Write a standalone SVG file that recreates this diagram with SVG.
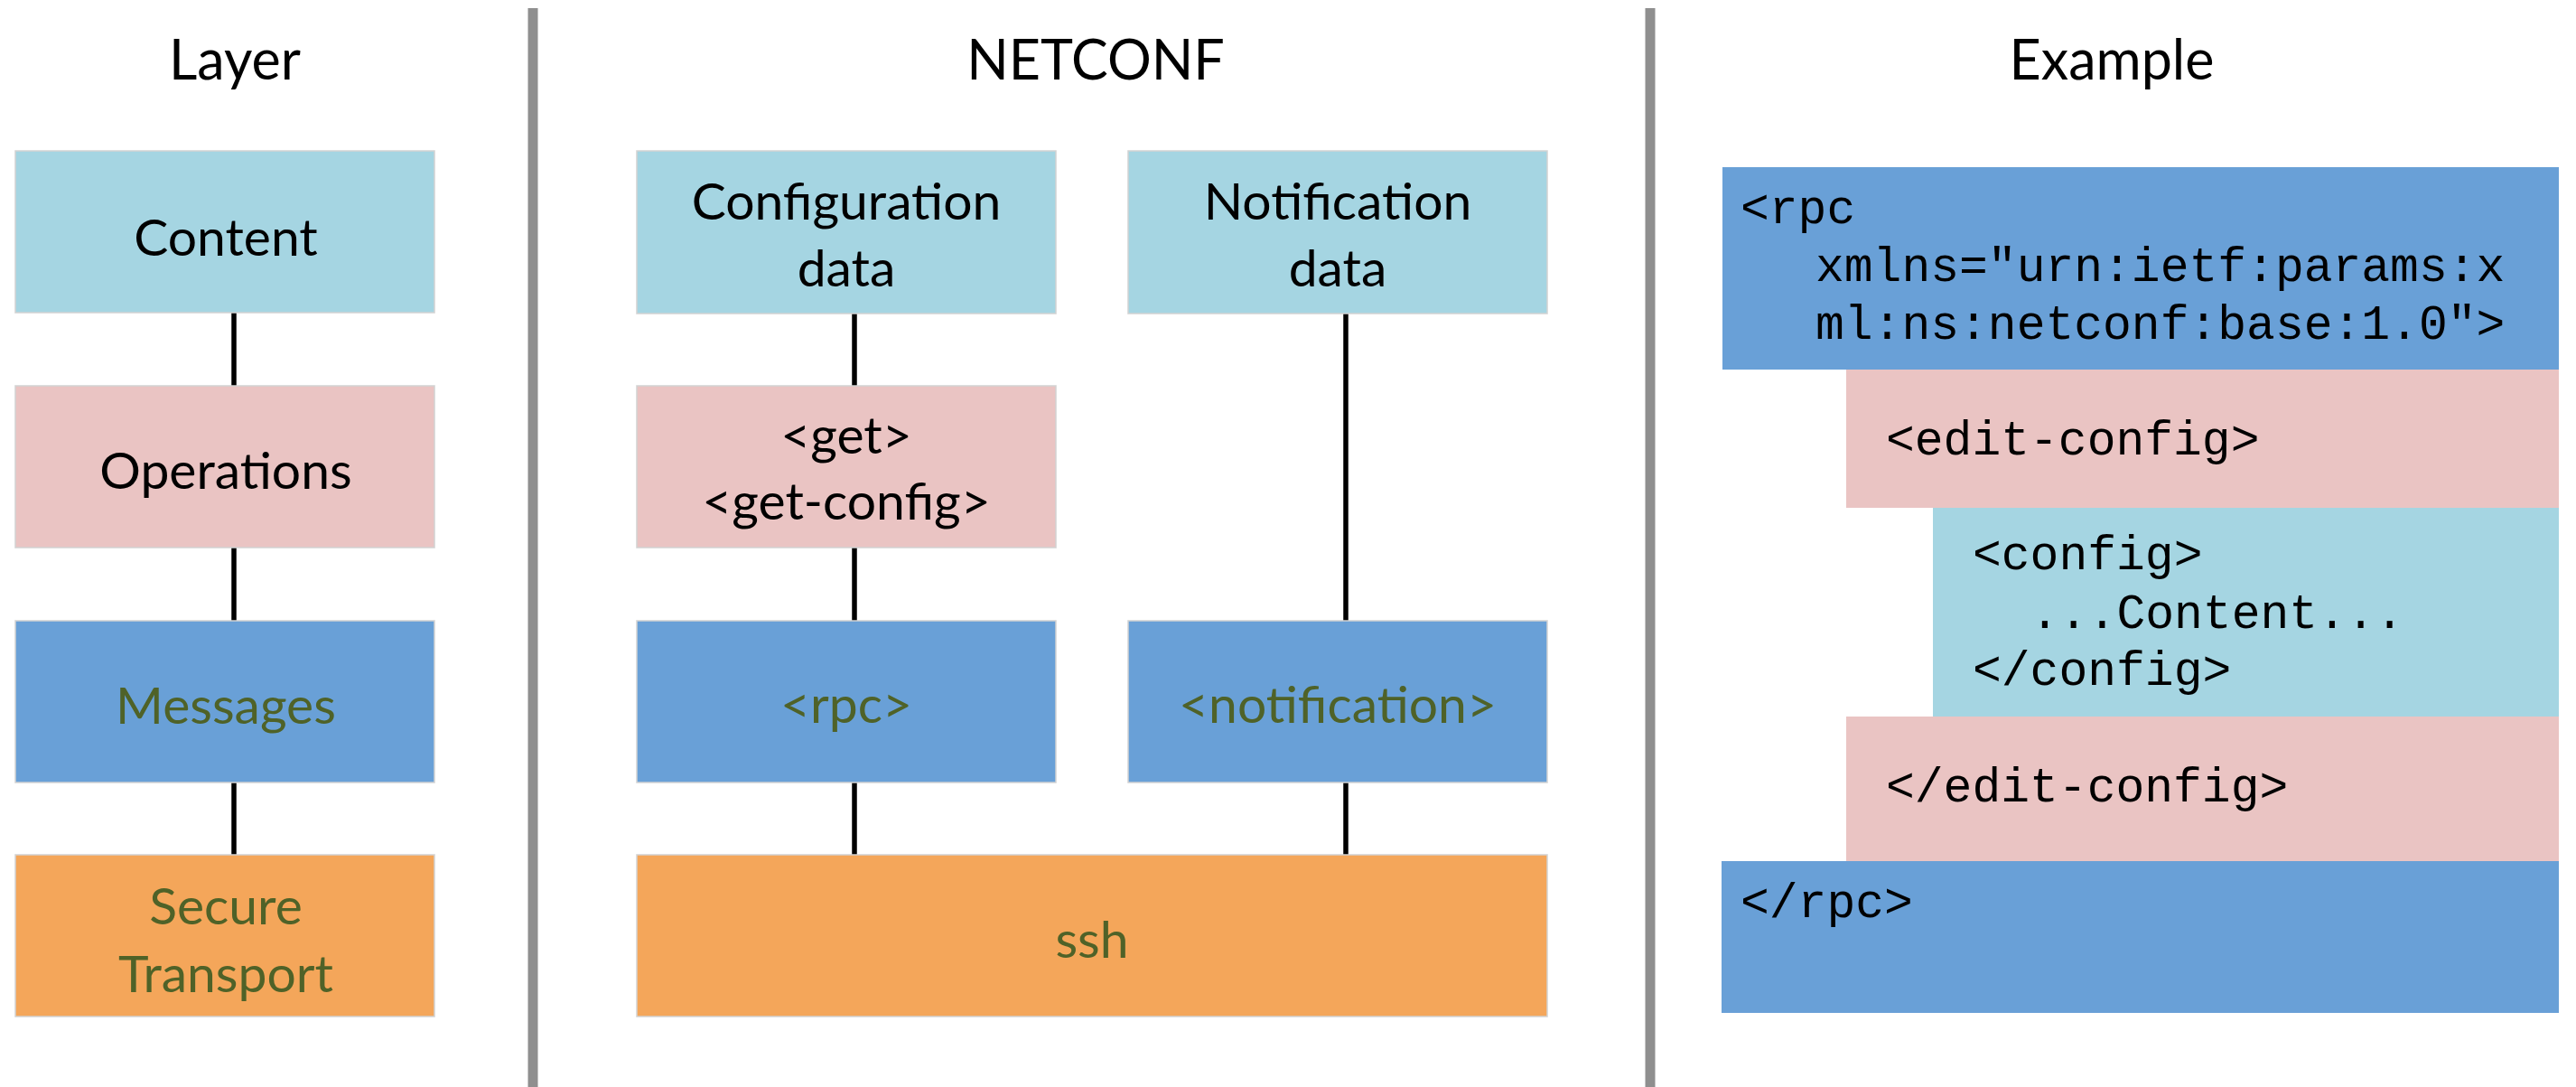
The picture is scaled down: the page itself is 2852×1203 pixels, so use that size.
<svg xmlns="http://www.w3.org/2000/svg" width="2852" height="1203" viewBox="0 0 2852 1203">
<style>
  .title { font-family: Lato, "Open Sans", "Liberation Sans", sans-serif; font-size: 61px; fill: #000; text-anchor: middle; }
  .lbl { font-family: Lato, "Open Sans", "Liberation Sans", sans-serif; font-size: 57px; text-anchor: middle; }
  .dark { fill: #000; }
  .green { fill: #4F6228; }
  .code { font-family: "Liberation Mono", "Courier New", monospace; font-size: 53px; fill: #000; }
  .content { fill: #A5D5E2; }
  .ops { fill: #EAC4C3; }
  .msg { fill: #69A0D7; }
  .trans { fill: #F4A65A; }
  .bord { stroke: #D2D2D2; stroke-width: 1.5; }
  .conn { stroke: #000; stroke-width: 5.5; fill: none; }
  .divider { stroke: #8F8F8F; stroke-width: 11; }
</style>
<rect width="2852" height="1203" fill="#FFFFFF"/>

<g id="dividers">
  <line class="divider" x1="590" y1="9" x2="590" y2="1203"/>
  <line class="divider" x1="1827" y1="9" x2="1827" y2="1203"/>
</g>

<g id="titles">
  <text class="title" x="260" y="88">Layer</text>
  <text class="title" x="1213" y="88">NETCONF</text>
  <text class="title" x="2338" y="88">Example</text>
</g>

<g id="connectors">
  <line class="conn" x1="259" y1="346" x2="259" y2="427"/>
  <line class="conn" x1="259" y1="606" x2="259" y2="687"/>
  <line class="conn" x1="259" y1="866" x2="259" y2="946"/>
  <line class="conn" x1="946" y1="347" x2="946" y2="427"/>
  <line class="conn" x1="946" y1="606" x2="946" y2="687"/>
  <line class="conn" x1="946" y1="866" x2="946" y2="946"/>
  <line class="conn" x1="1490" y1="347" x2="1490" y2="687"/>
  <line class="conn" x1="1490" y1="866" x2="1490" y2="946"/>
</g>

<g id="layer-content">
  <rect class="content bord" x="17" y="167" width="464" height="179"/>
  <text class="lbl dark" x="250" y="283">Content</text>
</g>
<g id="layer-operations">
  <rect class="ops bord" x="17" y="427" width="464" height="179"/>
  <text class="lbl dark" x="250" y="541">Operations</text>
</g>
<g id="layer-messages">
  <rect class="msg bord" x="17" y="687" width="464" height="179"/>
  <text class="lbl green" x="250" y="801">Messages</text>
</g>
<g id="layer-transport">
  <rect class="trans bord" x="17" y="946" width="464" height="179"/>
  <text class="lbl green" x="250" y="1023">Secure</text>
  <text class="lbl green" x="250" y="1098">Transport</text>
</g>

<g id="nc-config-data">
  <rect class="content bord" x="705" y="167" width="464" height="180"/>
  <text class="lbl dark" x="937" y="243">Configuration</text>
  <text class="lbl dark" x="937" y="317">data</text>
</g>
<g id="nc-notification-data">
  <rect class="content bord" x="1249" y="167" width="464" height="180"/>
  <text class="lbl dark" x="1481" y="243">Notification</text>
  <text class="lbl dark" x="1481" y="317">data</text>
</g>
<g id="nc-get">
  <rect class="ops bord" x="705" y="427" width="464" height="179"/>
  <text class="lbl dark" x="937" y="502">&lt;get&gt;</text>
  <text class="lbl dark" x="937" y="575">&lt;get-config&gt;</text>
</g>
<g id="nc-rpc">
  <rect class="msg bord" x="705" y="687" width="464" height="179"/>
  <text class="lbl green" x="937" y="800">&lt;rpc&gt;</text>
</g>
<g id="nc-notification">
  <rect class="msg bord" x="1249" y="687" width="464" height="179"/>
  <text class="lbl green" x="1481" y="800">&lt;notification&gt;</text>
</g>
<g id="nc-ssh">
  <rect class="trans bord" x="705" y="946" width="1008" height="179"/>
  <text class="lbl green" x="1209" y="1060">ssh</text>
</g>

<g id="ex-rpc-open">
  <rect class="msg" x="1907" y="185" width="926" height="224"/>
  <text class="code" x="1927" y="247">&lt;rpc</text>
  <text class="code" x="2010" y="311">xmlns="urn:ietf:params:x</text>
  <text class="code" x="2010" y="375">ml:ns:netconf:base:1.0"&gt;</text>
</g>
<g id="ex-edit-open">
  <rect class="ops" x="2044" y="409" width="789" height="153"/>
  <text class="code" x="2088" y="503">&lt;edit-config&gt;</text>
</g>
<g id="ex-config">
  <rect class="content" x="2140" y="562" width="693" height="231"/>
  <text class="code" x="2184" y="630">&lt;config&gt;</text>
  <text class="code" x="2248" y="695">...Content...</text>
  <text class="code" x="2184" y="758">&lt;/config&gt;</text>
</g>
<g id="ex-edit-close">
  <rect class="ops" x="2044" y="793" width="789" height="160"/>
  <text class="code" x="2088" y="887">&lt;/edit-config&gt;</text>
</g>
<g id="ex-rpc-close">
  <rect class="msg" x="1906" y="953" width="927" height="168"/>
  <text class="code" x="1927" y="1015">&lt;/rpc&gt;</text>
</g>
</svg>
